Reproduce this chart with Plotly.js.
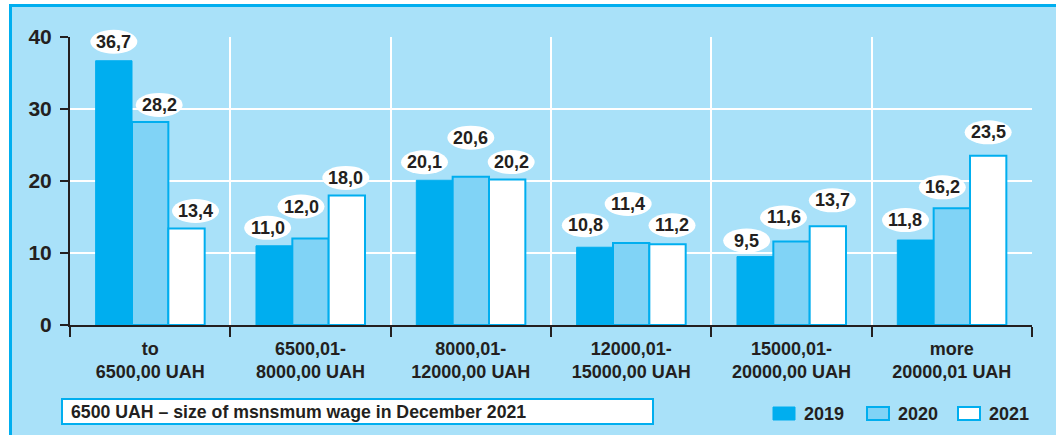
<!DOCTYPE html>
<html><head><meta charset="utf-8">
<script src="https://cdn.plot.ly/plotly-3.0.1.min.js"></script>
<style>
html,body{margin:0;padding:0;background:#fff;}
#wrap{position:absolute;left:9px;top:4px;width:1047px;height:431px;border-left:3px solid #00aeef;border-top:3px solid #00aeef;background:#a9e1f9;overflow:hidden;}
#chart{width:1044px;height:428px;}
</style></head><body>
<div id="wrap"><div id="chart"></div></div>
<script>
// ---- data ----
const categories = [
  'to<br>6500,00 UAH',
  '6500,01-<br>8000,00 UAH',
  '8000,01-<br>12000,00 UAH',
  '12000,01-<br>15000,00 UAH',
  '15000,01-<br>20000,00 UAH',
  'more<br>20000,01 UAH'
];
const years = ['2019', '2020', '2021'];
const values2019 = [36.7, 11.0, 20.1, 10.8, 9.5, 11.8];
const values2020 = [28.2, 12.0, 20.6, 11.4, 11.6, 16.2];
const values2021 = [13.4, 18.0, 20.2, 11.2, 13.7, 23.5];
const yTicks = [0, 10, 20, 30, 40];
const noteText = '6500 UAH \u2013 size of msnsmum wage in December 2021';

// ---- styles ----
const INK = '#231f20';
const BLUE = '#00aeef';
const BG = '#a9e1f9';
const FONT = 'Liberation Sans, Arial, Helvetica, sans-serif';
const fills = [BLUE, '#80d3f6', '#ffffff'];
const lineW = [1, 2, 2];
const BARGAP = 0.32;
const XRANGE = [-0.5, 5.5];
const YRANGE = [0, 40];
// label nudges in pixels (horizontal shift, height of label centre above bar top)
const nudgeX = [[0, -6.5, -10, -9.5, -8.5, -10], [9, -9.5, 0, -3, -8, -9.5], [9, -1, 4, 4.5, 4.5, 0]];
const nudgeY = [[19, 18, 18, 22, 16, 20], [17, 32, 39, 39, 24, 21], [17.5, 17.5, 17.5, 19, 26, 23.5]];

const series = [values2019, values2020, values2021];

// page pixel -> paper helpers (plot area spans page x 70..1032, y 37..325)
const px = x => (x - 70) / 962;
const py = y => (325 - y) / 288;
// axis value -> paper fraction (linear axis mapping of the ranges above)
const xFrac = v => (v - XRANGE[0]) / (XRANGE[1] - XRANGE[0]);
const yFrac = v => (v - YRANGE[0]) / (YRANGE[1] - YRANGE[0]);

const traces = series.map((vals, s) => ({
  type: 'bar', name: years[s], x: categories, y: vals,
  marker: {color: fills[s], line: {color: BLUE, width: lineW[s]}},
  hoverinfo: 'skip', showlegend: false
}));

const w = (1 - BARGAP) / 3;
const shapes = [];
const annotations = [];
series.forEach((vals, s) => {
  const off = (s - 1) * w;
  vals.forEach((v, i) => {
    const dx = nudgeX[s][i], dy = nudgeY[s][i];
    shapes.push({
      type: 'circle', xref: 'paper', yref: 'paper', xsizemode: 'pixel', ysizemode: 'pixel',
      xanchor: xFrac(i + off), yanchor: yFrac(v),
      x0: dx - 23.5, x1: dx + 23.5, y0: dy - 12, y1: dy + 12,
      fillcolor: '#ffffff', line: {width: 0}, layer: 'above'
    });
    annotations.push({
      xref: 'x', yref: 'y', x: i + off, y: v, xshift: dx, yshift: dy,
      text: v.toFixed(1).replace('.', ','), showarrow: false,
      xanchor: 'center', yanchor: 'middle',
      font: {family: FONT, size: 18, color: INK, weight: 'bold'}
    });
  });
});

// note box
shapes.push({type: 'rect', xref: 'paper', yref: 'paper', x0: px(62), x1: px(653), y0: py(424), y1: py(399),
  fillcolor: '#ffffff', line: {color: BLUE, width: 2}, layer: 'above'});
annotations.push({xref: 'paper', yref: 'paper', x: px(69), y: py(412), xanchor: 'left', yanchor: 'middle',
  text: noteText, showarrow: false, font: {family: FONT, size: 17.7, color: INK, weight: 'bold'}});

// legend
const legX = [773, 867, 958];
years.forEach((yr, s) => {
  shapes.push({type: 'rect', xref: 'paper', yref: 'paper', x0: px(legX[s]), x1: px(legX[s] + 22),
    y0: py(420), y1: py(407), fillcolor: fills[s], line: {color: BLUE, width: s === 0 ? 1 : 2}, layer: 'above'});
  annotations.push({xref: 'paper', yref: 'paper', x: px(legX[s] + 29), y: py(413.5), xanchor: 'left', yanchor: 'middle',
    text: yr, showarrow: false, font: {family: FONT, size: 18, color: INK, weight: 'bold'}});
});

const layout = {
  width: 1044, height: 428,
  margin: {l: 58, r: 24, t: 30, b: 110},
  paper_bgcolor: BG, plot_bgcolor: BG,
  font: {family: FONT, color: INK, weight: 'bold'},
  barmode: 'group', bargap: BARGAP, bargroupgap: 0,
  showlegend: false,
  xaxis: {
    type: 'category', range: XRANGE, tickson: 'boundaries',
    ticks: 'outside', ticklen: 10, tickwidth: 2, tickcolor: INK,
    showline: true, linewidth: 2, linecolor: INK,
    showgrid: true, gridcolor: '#ffffff', gridwidth: 2,
    tickfont: {family: FONT, size: 18, color: INK, weight: 'bold'},
    ticklabelstandoff: 6,
    fixedrange: true
  },
  yaxis: {
    range: YRANGE, tickvals: yTicks, ticktext: yTicks.map(String),
    ticks: 'outside', ticklen: 8, tickwidth: 2, tickcolor: INK,
    showline: true, linewidth: 2, linecolor: INK,
    showgrid: true, gridcolor: '#ffffff', gridwidth: 2, zeroline: false,
    tickfont: {family: FONT, size: 21, color: INK, weight: 'bold'},
    ticklabelstandoff: 4,
    fixedrange: true
  },
  shapes: shapes,
  annotations: annotations
};

Plotly.newPlot('chart', traces, layout, {displayModeBar: false, staticPlot: true});
</script>
</body></html>
